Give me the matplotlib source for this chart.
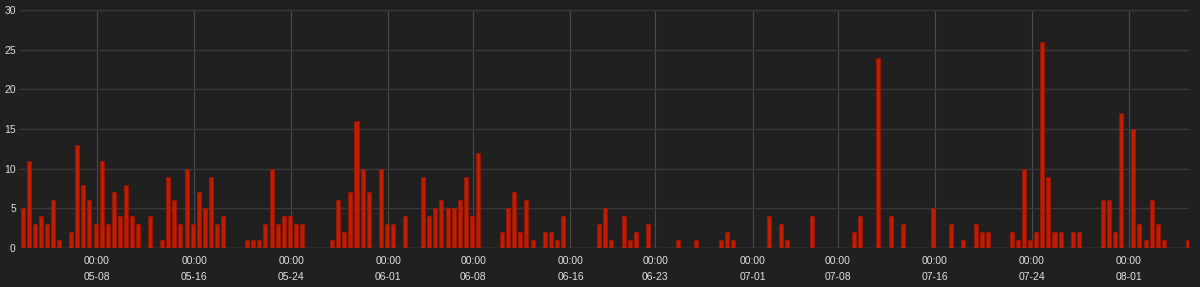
import matplotlib
matplotlib.use("Agg")
import matplotlib.pyplot as plt
import matplotlib.dates as mdates
import pandas as pd
import numpy as np

# 12-hour bins starting at this time
start_time = "2023-05-01 21:00"
bin_hours = 12
counts = [
    5, 11, 3, 4, 3, 6, 1, 0, 2, 13, 8, 6, 3, 11, 3, 7, 4, 8, 4, 3,
    0, 4, 0, 1, 9, 6, 3, 10, 3, 7, 5, 9, 3, 4, 0, 0, 0, 1, 1, 1,
    3, 10, 3, 4, 4, 3, 3, 0, 0, 0, 0, 1, 6, 2, 7, 16, 10, 7, 0, 10,
    3, 3, 0, 4, 0, 0, 9, 4, 5, 6, 5, 5, 6, 9, 4, 12, 0, 0, 0, 2,
    5, 7, 2, 6, 1, 0, 2, 2, 1, 4, 0, 0, 0, 0, 0, 3, 5, 1, 0, 4,
    1, 2, 0, 3, 0, 0, 0, 0, 1, 0, 0, 1, 0, 0, 0, 1, 2, 1, 0, 0,
    0, 0, 0, 4, 0, 3, 1, 0, 0, 0, 4, 0, 0, 0, 0, 0, 0, 2, 4, 0,
    0, 24, 0, 4, 0, 3, 0, 0, 0, 0, 5, 0, 0, 3, 0, 1, 0, 3, 2, 2,
    0, 0, 0, 2, 1, 10, 1, 2, 26, 9, 2, 2, 0, 2, 2, 0, 0, 0, 6, 6,
    2, 17, 0, 15, 3, 1, 6, 3, 1, 0, 0, 0, 1,
]
tick_dates = ["2023-05-08", "2023-05-16", "2023-05-24", "2023-06-01",
              "2023-06-08", "2023-06-16", "2023-06-23", "2023-07-01",
              "2023-07-08", "2023-07-16", "2023-07-24", "2023-08-01"]
y_ticks = [0, 5, 10, 15, 20, 25, 30]

BG = "#202020"
GRID = "#3a3a3a"
VGRID = "#4a4a4a"
TEXT = "#e0e0e0"
BAR = "#c41a00"

times = pd.date_range(start_time, periods=len(counts), freq=f"{bin_hours}h")
xnum = mdates.date2num(times.to_pydatetime())

fig = plt.figure(figsize=(12, 2.87), dpi=100, facecolor=BG)
ax = fig.add_axes([20/1200, 39/287, (1189-20)/1200, (248-10)/287])
ax.set_facecolor(BG)

ax.bar(xnum, counts, width=0.33, color=BAR, edgecolor="#a81600", linewidth=0.4, zorder=3)

step = bin_hours / 24.0
ax.set_xlim(xnum[0] - 0.44 * step, xnum[0] + 192.16 * step)
ax.set_ylim(0, 30)

tnum = mdates.date2num(pd.to_datetime(tick_dates).to_pydatetime())
ax.set_xticks(tnum)
ax.set_xticklabels(["00:00\n" + pd.Timestamp(d).strftime("%m-%d") for d in tick_dates],
                   family="Liberation Sans", fontsize=7.5, color=TEXT, linespacing=1.65)
ax.set_yticks(y_ticks)
ax.set_yticklabels([str(v) for v in y_ticks], family="Liberation Sans", fontsize=7.5, color=TEXT)

ax.tick_params(axis="both", length=0)
ax.tick_params(axis="x", pad=6)
ax.tick_params(axis="y", pad=3)

ax.grid(True, axis="y", color=GRID, linewidth=1, zorder=0)
ax.grid(True, axis="x", color=VGRID, linewidth=0.8, zorder=0)
for s in ax.spines.values():
    s.set_visible(False)
ax.axhline(0, color="#4a4a4a", linewidth=1, zorder=2)

fig.savefig("out.png", dpi=100, facecolor=BG)
